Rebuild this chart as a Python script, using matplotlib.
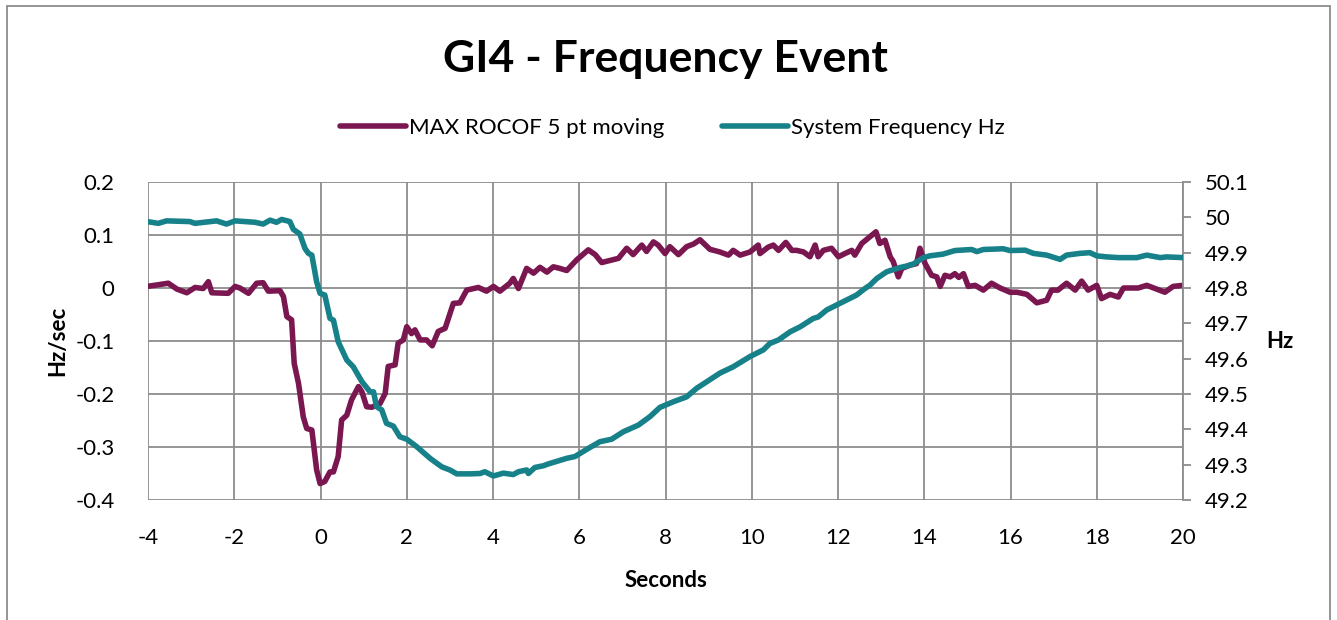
import matplotlib.pyplot as plt
from matplotlib.patches import Rectangle

plt.rcParams['font.family'] = ['Lato', 'DejaVu Sans']

# MAX ROCOF 5 pt moving (Hz/sec)
rocof_t = [-4.02, -3.53, -3.33, -3.10, -2.91, -2.72, -2.60, -2.52, -2.14, -1.98, -1.87, -1.67,
           -1.48, -1.33, -1.21, -0.94, -0.86, -0.78, -0.67, -0.61, -0.51, -0.40, -0.32, -0.20,
           -0.09, -0.01, 0.10, 0.22, 0.30, 0.41, 0.49, 0.61, 0.72, 0.88, 0.96, 1.07, 1.19, 1.38,
           1.50, 1.57, 1.73, 1.80, 1.92, 2.00, 2.11, 2.19, 2.31, 2.46, 2.59, 2.73, 2.89, 3.08,
           3.23, 3.39, 3.66, 3.85, 4.01, 4.16, 4.39, 4.47, 4.59, 4.78, 4.94, 5.09, 5.25, 5.40,
           5.55, 5.71, 5.94, 6.21, 6.37, 6.52, 6.71, 6.91, 7.10, 7.25, 7.45, 7.56, 7.72, 7.83,
           7.99, 8.10, 8.30, 8.49, 8.65, 8.80, 9.03, 9.26, 9.46, 9.57, 9.73, 9.96, 10.15, 10.19,
           10.38, 10.50, 10.62, 10.79, 10.93, 11.04, 11.20, 11.35, 11.47, 11.54, 11.66, 11.85,
           12.01, 12.16, 12.32, 12.39, 12.55, 12.70, 12.88, 12.97, 13.09, 13.21, 13.28, 13.40,
           13.48, 13.67, 13.82, 13.90, 14.02, 14.17, 14.29, 14.37, 14.48, 14.60, 14.71, 14.80,
           14.91, 15.02, 15.18, 15.37, 15.56, 15.76, 15.99, 16.15, 16.38, 16.61, 16.84, 16.95,
           17.10, 17.30, 17.50, 17.65, 17.80, 18.00, 18.11, 18.31, 18.50, 18.62, 18.96, 19.16,
           19.39, 19.58, 19.77, 20.00]
rocof = [0.003, 0.009, -0.002, -0.009, 0.001, -0.001, 0.012, -0.009, -0.010, 0.003, 0.000, -0.010,
         0.009, 0.010, -0.006, -0.005, -0.016, -0.054, -0.060, -0.142, -0.180, -0.243, -0.265, -0.268,
         -0.343, -0.369, -0.365, -0.347, -0.347, -0.318, -0.249, -0.240, -0.211, -0.186, -0.196, -0.224,
         -0.225, -0.218, -0.199, -0.148, -0.145, -0.104, -0.098, -0.073, -0.086, -0.079, -0.098, -0.098,
         -0.109, -0.082, -0.076, -0.029, -0.028, -0.004, 0.001, -0.006, 0.003, -0.006, 0.009, 0.018,
         -0.001, 0.037, 0.028, 0.039, 0.030, 0.040, 0.037, 0.033, 0.053, 0.072, 0.063, 0.048, 0.052,
         0.056, 0.075, 0.063, 0.081, 0.069, 0.087, 0.081, 0.065, 0.078, 0.063, 0.078, 0.083, 0.091,
         0.073, 0.068, 0.062, 0.071, 0.062, 0.068, 0.081, 0.065, 0.077, 0.081, 0.071, 0.086, 0.071,
         0.071, 0.068, 0.059, 0.081, 0.059, 0.071, 0.075, 0.059, 0.065, 0.071, 0.062, 0.084, 0.094,
         0.106, 0.084, 0.090, 0.059, 0.050, 0.021, 0.037, 0.043, 0.046, 0.075, 0.046, 0.024, 0.021,
         0.003, 0.024, 0.021, 0.027, 0.020, 0.027, 0.003, 0.005, -0.004, 0.009, 0.000, -0.008, -0.008,
         -0.012, -0.028, -0.023, -0.004, -0.004, 0.009, -0.004, 0.013, -0.004, 0.005, -0.020, -0.012,
         -0.017, 0.000, 0.000, 0.005, -0.002, -0.008, 0.003, 0.005]

# System Frequency Hz
freq_t = [-4.02, -3.76, -3.57, -3.03, -2.91, -2.41, -2.18, -1.98, -1.52, -1.33, -1.17, -1.02,
          -0.90, -0.71, -0.63, -0.48, -0.36, -0.28, -0.20, -0.09, -0.01, 0.10, 0.22, 0.30, 0.41,
          0.61, 0.76, 0.96, 1.15, 1.23, 1.30, 1.42, 1.53, 1.69, 1.84, 2.00, 2.23, 2.54, 2.81, 3.00,
          3.16, 3.47, 3.70, 3.81, 4.01, 4.24, 4.47, 4.59, 4.78, 4.82, 4.97, 5.17, 5.28, 5.55, 5.71,
          5.90, 6.21, 6.48, 6.75, 7.02, 7.37, 7.64, 7.87, 8.18, 8.49, 8.72, 8.96, 9.26, 9.57, 9.96,
          10.27, 10.42, 10.62, 10.89, 11.12, 11.43, 11.54, 11.74, 11.97, 12.20, 12.43, 12.63, 12.74,
          12.90, 13.13, 13.44, 13.59, 13.75, 13.98, 14.13, 14.44, 14.71, 15.10, 15.22, 15.37, 15.83,
          15.99, 16.34, 16.53, 16.84, 17.15, 17.30, 17.61, 17.84, 18.00, 18.23, 18.50, 18.93, 19.16,
          19.47, 19.62, 20.00]
freq = [49.988, 49.983, 49.990, 49.988, 49.983, 49.990, 49.981, 49.990, 49.986, 49.981, 49.992,
        49.986, 49.994, 49.988, 49.966, 49.953, 49.912, 49.898, 49.893, 49.818, 49.785, 49.780,
        49.714, 49.709, 49.648, 49.596, 49.577, 49.535, 49.506, 49.506, 49.464, 49.455, 49.417,
        49.409, 49.379, 49.372, 49.351, 49.318, 49.294, 49.285, 49.274, 49.274, 49.275, 49.280,
        49.268, 49.276, 49.272, 49.280, 49.285, 49.275, 49.292, 49.297, 49.302, 49.312, 49.318,
        49.323, 49.346, 49.365, 49.372, 49.393, 49.412, 49.436, 49.462, 49.478, 49.492, 49.516,
        49.535, 49.559, 49.577, 49.606, 49.625, 49.643, 49.653, 49.676, 49.690, 49.714, 49.718,
        49.738, 49.752, 49.766, 49.780, 49.799, 49.808, 49.827, 49.846, 49.858, 49.862, 49.868,
        49.886, 49.891, 49.896, 49.906, 49.909, 49.903, 49.909, 49.911, 49.906, 49.907, 49.898,
        49.893, 49.881, 49.893, 49.898, 49.900, 49.891, 49.888, 49.886, 49.886, 49.893, 49.886,
        49.888, 49.886]

left_ticks = [-0.4, -0.3, -0.2, -0.1, 0, 0.1, 0.2]
left_labels = ['-0.4', '-0.3', '-0.2', '-0.1', '0', '0.1', '0.2']
right_ticks = [49.2, 49.3, 49.4, 49.5, 49.6, 49.7, 49.8, 49.9, 50.0, 50.1]
right_labels = ['49.2', '49.3', '49.4', '49.5', '49.6', '49.7', '49.8', '49.9', '50', '50.1']
x_ticks = [-4, -2, 0, 2, 4, 6, 8, 10, 12, 14, 16, 18, 20]

purple = '#7b1750'
teal = '#17818a'
grid = '#8c8c8c'
fs = 16

fig = plt.figure(figsize=(13.37, 6.2), dpi=100)
ax = fig.add_axes([148 / 1337, 120 / 620, 1035 / 1337, 318 / 620])
ax2 = ax.twinx()

ax.plot(rocof_t, rocof, color=purple, lw=4, solid_joinstyle='round', solid_capstyle='round',
        label='MAX ROCOF 5 pt moving', zorder=3)
ax2.plot(freq_t, freq, color=teal, lw=4, solid_joinstyle='round', solid_capstyle='round',
         label='System Frequency Hz', zorder=3)

ax.set_xlim(-4, 20)
ax.set_ylim(-0.4, 0.2)
ax2.set_ylim(49.2, 50.1)
ax.set_xticks(x_ticks)
ax.set_xticklabels([str(v) for v in x_ticks])
ax.set_yticks(left_ticks)
ax.set_yticklabels(left_labels)
ax2.set_yticks(right_ticks)
ax2.set_yticklabels(right_labels)

ax.grid(True, color=grid, lw=1.3)
ax.set_axisbelow(True)
ax.tick_params(axis='both', length=0, labelsize=fs, colors='black')
ax.tick_params(axis='y', pad=24)
ax.tick_params(axis='x', pad=20)
ax2.tick_params(axis='y', length=6, width=1.3, color=grid, labelsize=fs, pad=10, direction='out')

for sp in ax.spines.values():
    sp.set_visible(False)
for name, sp in ax2.spines.items():
    sp.set_visible(name == 'right')
ax2.spines['right'].set_color(grid)
ax2.spines['right'].set_linewidth(1.3)

ax.set_ylabel('Hz/sec', fontsize=fs, fontweight='bold')
ax.yaxis.set_label_coords(-0.077, 0.5)
ax2.set_ylabel('Hz', fontsize=fs, fontweight='bold', rotation=0, va='center', ha='left')
ax2.yaxis.set_label_coords(1.08, 0.5)
ax.set_xlabel('Seconds', fontsize=fs, fontweight='bold')
ax.xaxis.set_label_coords(0.5, -0.22)

fig.text(665 / 1337, 1 - 59 / 620, 'GI4 - Frequency Event', ha='center', va='center',
         fontsize=32, fontweight='bold')

h1, l1 = ax.get_legend_handles_labels()
h2, l2 = ax2.get_legend_handles_labels()
fig.legend(h1 + h2, l1 + l2, loc='center', bbox_to_anchor=(672 / 1337, 1 - 128 / 620), ncol=2,
           frameon=False, fontsize=fs, handlelength=3.0, handletextpad=0.1, columnspacing=2.6)

fig.patches.append(Rectangle((7 / 1337, -0.05), 1323 / 1337, 1 - 6 / 620 + 0.05,
                             transform=fig.transFigure, fill=False, edgecolor='#8c8c8c', lw=1.3))

fig.savefig('out.png', dpi=100)
